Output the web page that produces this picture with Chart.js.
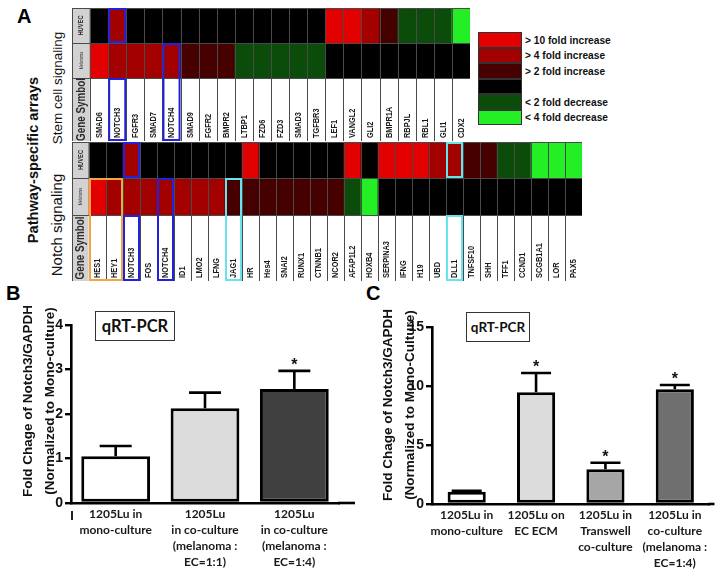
<!DOCTYPE html>
<html>
<head>
<meta charset="utf-8">
<script src="https://cdn.jsdelivr.net/npm/chart.js@4.4.1/dist/chart.umd.min.js"></script>
<style>
body { margin: 0; background: #fff; width: 721px; height: 574px; position: relative; overflow: hidden; font-family: "Liberation Sans", Arial, sans-serif; }
.abs { position: absolute; }
.rot { position: absolute; white-space: nowrap; transform: translate(-50%, -50%) rotate(-90deg); color: #111; }
.letter { position: absolute; font-weight: bold; font-size: 20px; line-height: 20px; color: #000; }
.qbox { position: absolute; border: 1.5px solid #333; box-sizing: border-box; font-family: Lato, sans-serif; font-weight: bold; color: #111; display: flex; align-items: center; justify-content: center; background: #fff; }
.ytitle { position: absolute; white-space: nowrap; transform: translate(-50%, -50%) rotate(-90deg); font-weight: bold; font-size: 13.5px; line-height: 22px; text-align: center; color: #111; }
#legend .sw { position: absolute; left: 478px; width: 44px; height: 15.5px; box-sizing: border-box; border: 1px solid #333; }
#legend .tx { position: absolute; left: 525px; font-weight: bold; font-size: 10.2px; line-height: 12px; color: #111; white-space: nowrap; }
</style>
</head>
<body>

<div class="letter" style="left:17px;top:6px;">A</div>
<div class="letter" style="left:6px;top:283px;">B</div>
<div class="letter" style="left:366px;top:283px;">C</div>

<div class="rot" style="left:33px;top:160px;font-weight:bold;font-size:14.6px;">Pathway-specific arrays</div>
<div class="rot" style="left:57px;top:88px;font-size:13.5px;">Stem cell signaling</div>
<div class="rot" style="left:56px;top:225px;font-size:15px;">Notch signaling</div>

<div class="abs" style="left:72px;top:8px;width:398px;height:133px;"><canvas id="stemMap"></canvas></div>
<div class="abs" style="left:72px;top:142px;width:510px;height:139px;"><canvas id="notchMap"></canvas></div>
<div id="legend"></div>

<div class="abs" style="left:0px;top:290px;width:360px;height:284px;"><canvas id="chartB"></canvas></div>
<div class="abs" style="left:360px;top:290px;width:361px;height:284px;"><canvas id="chartC"></canvas></div>

<div class="ytitle" style="left:39px;top:401px;">Fold Chage of Notch3/GAPDH<br>(Normalized to Mono-culture)</div>
<div class="ytitle" style="left:399px;top:405px;">Fold Chage of Notch3/GAPDH<br>(Normalized to Mono-Culture)</div>

<div class="qbox" style="left:95px;top:311px;width:80px;height:30px;font-size:16.5px;">qRT-PCR</div>
<div class="qbox" style="left:466px;top:312px;width:64px;height:30px;font-size:13.5px;">qRT-PCR</div>
<div class="abs" style="left:71px;top:511px;width:2px;height:9px;background:#222;"></div>

<script>
// ---- Panel A data: fold-change level per gene (3: >10x up, 2: >4x up, 1: >2x up, 0: none, -1: <2x down, -2: <4x down)
const stemGenes = ['SMAD6', 'NOTCH3', 'FGFR3', 'SMAD7', 'NOTCH4', 'SMAD9', 'FGFR2', 'BMPR2', 'LTBP1', 'FZD6', 'FZD3',
    'SMAD3', 'TGFBR3', 'LEF1', 'VANGL2', 'GLI2', 'BMPR1A', 'RBPJL', 'RBL1', 'GLI1', 'CDX2'];
const stemHuvec = [0, 2, 0, 0, 0, 0, 0, 0, 0, 0, 0, 0, 0, 3, 3, 2, 1, -1, -1, -1, -2];
const stemMelanoma = [3, 2, 2, 2, 2, 1, 1, 1, -1, -1, -1, -1, -1, 0, 0, 0, 0, 0, 0, 0, 0];

const notchGenes = ['HES1', 'HEY1', 'NOTCH3', 'FOS', 'NOTCH4', 'ID1', 'LMO2', 'LFNG', 'JAG1', 'HR', 'Hes4', 'SNAI2',
    'RUNX1', 'CTNNB1', 'NCOR2', 'AFAP1L2', 'HOXB4', 'SERPINA3', 'IFNG', 'H19', 'UBD', 'DLL1', 'TNFSF10', 'SHH',
    'TFF1', 'CCND1', 'SCGB1A1', 'LOR', 'PAX5'];
const notchHuvec = [0, 0, 2, 0, 0, 0, 0, 0, 0, 3, 0, 0, 0, 0, 0, 3, 0, 3, 3, 3, 2, 2, 1, 1, -1, -1, -2, -2, -2];
const notchMelanoma = [3, 2, 2, 2, 2, 2, 2, 2, 1, 1, 1, 1, 1, 1, 1, -1, -2, 0, 0, 0, 0, 0, 0, 0, 0, 0, 0, 0, 0];

const legendLevels = [3, 2, 1, 0, -1, -2];
const legendLabels = ['> 10 fold increase', '> 4 fold increase', '> 2 fold increase', '', '< 2 fold decrease', '< 4 fold decrease'];

// ---- Panel B data
const labelsB = [['1205Lu in', 'mono-culture'], ['1205Lu', 'in co-culture', '(melanoma :', 'EC=1:1)'],
    ['1205Lu', 'in co-culture', '(melanoma :', 'EC=1:4)']];
const valuesB = [1.05, 2.13, 2.56];
const errorsB = [1.28, 2.48, 2.97];
const signifB = [false, false, true];
const ticksB = [0, 1, 2, 3, 4];

// ---- Panel C data
const labelsC = [['1205Lu in', 'mono-culture'], ['1205Lu on', 'EC ECM'], ['1205Lu in', 'Transwell', 'co-culture'],
    ['1205Lu in', 'co-culture', '(melanoma :', 'EC=1:4)']];
const valuesC = [1.04, 9.46, 2.94, 9.72];
const errorsC = [1.12, 11.1, 3.5, 10.08];
const signifC = [false, true, true, true];
const ticksC = [0, 5, 10, 15];

const levelColors = { '3': '#e30000', '2': '#a30000', '1': '#460000', '0': '#000000', '-1': '#0b4c0b', '-2': '#24ee24' };
const labelGray = '#d2d2d2';

// legend
const legend = document.getElementById('legend');
legendLevels.forEach(function(lv, i) {
    const top = 32 + i * 15.5;
    const sw = document.createElement('div');
    sw.className = 'sw';
    sw.style.top = top + 'px';
    sw.style.background = levelColors[lv];
    legend.appendChild(sw);
    if (legendLabels[i]) {
        const tx = document.createElement('div');
        tx.className = 'tx';
        tx.style.top = (top + 2.5) + 'px';
        tx.textContent = legendLabels[i];
        legend.appendChild(tx);
    }
});

// Draws cell borders, gene names, row labels and highlight boxes
const heatTextPlugin = {
    id: 'heatText',
    afterDatasetsDraw: function(chart, args, opts) {
        const ctx = chart.ctx;
        const xs = chart.scales.x;
        const ys = chart.scales.y;
        ctx.save();
        ctx.strokeStyle = '#4a4a4a';
        ctx.lineWidth = 1;
        chart.data.datasets.forEach(function(ds, di) {
            chart.getDatasetMeta(di).data.forEach(function(el) {
                const p = el.getProps(['x', 'y', 'base', 'width'], true);
                const x0 = Math.round(p.x - p.width / 2);
                const x1 = Math.round(p.x + p.width / 2);
                const y0 = Math.round(Math.min(p.y, p.base));
                const y1 = Math.round(Math.max(p.y, p.base));
                ctx.strokeRect(x0 + 0.5, y0 + 0.5, x1 - x0, y1 - y0);
            });
        });

        // gene names
        ctx.fillStyle = '#1a1a1a';
        ctx.font = 'bold 9px "Liberation Sans", Arial, sans-serif';
        ctx.textAlign = 'left';
        ctx.textBaseline = 'middle';
        const yBottom = ys.getPixelForValue(opts.rows.gene[0]);
        opts.genes.forEach(function(g, i) {
            ctx.save();
            ctx.translate(xs.getPixelForValue(i + 1) + 0.5, yBottom - 3);
            ctx.rotate(-Math.PI / 2);
            ctx.scale(0.82, 1);
            ctx.fillText(g, 0, 0);
            ctx.restore();
        });

        // row labels in first column
        const rowText = [
            { row: 'huvec', text: 'HUVEC', font: 'bold 7px "Liberation Sans", Arial, sans-serif' },
            { row: 'melanoma', text: 'Melanoma', font: '4.6px "Liberation Sans", Arial, sans-serif' },
            { row: 'gene', text: 'Gene Symbol', font: 'bold 12px "Liberation Sans", Arial, sans-serif' }
        ];
        ctx.textAlign = 'center';
        rowText.forEach(function(r) {
            const span = opts.rows[r.row];
            const yMid = (ys.getPixelForValue(span[0]) + ys.getPixelForValue(span[1])) / 2;
            ctx.save();
            ctx.translate(xs.getPixelForValue(0) + 0.5, yMid);
            ctx.rotate(-Math.PI / 2);
            ctx.scale(0.82, 1);
            ctx.font = r.font;
            ctx.fillStyle = '#2a2a2a';
            ctx.fillText(r.text, 0, 0);
            ctx.restore();
        });

        // highlight boxes
        const cw = xs.width / chart.data.labels.length;
        ctx.lineWidth = 2;
        opts.highlights.forEach(function(h) {
            const i0 = opts.genes.indexOf(h.genes[0]) + 1;
            const i1 = opts.genes.indexOf(h.genes[h.genes.length - 1]) + 1;
            const spans = h.rows.map(function(r) { return opts.rows[r]; });
            const lo = Math.min.apply(null, spans.map(function(s) { return s[0]; }));
            const hi = Math.max.apply(null, spans.map(function(s) { return s[1]; }));
            const x0 = xs.getPixelForValue(i0) - cw / 2;
            const x1 = xs.getPixelForValue(i1) + cw / 2;
            const y0 = ys.getPixelForValue(hi);
            const y1 = ys.getPixelForValue(lo);
            ctx.strokeStyle = h.color;
            ctx.strokeRect(x0 + 1, y0 + 1, x1 - x0 - 2, y1 - y0 - 2);
        });
        ctx.restore();
    }
};

function levelFill(levels) {
    return [labelGray].concat(levels.map(function(l) { return levelColors[l]; }));
}

function createHeatmap(id, genes, huvec, melanoma, rows, highlights) {
    const labels = [''].concat(genes);
    const rowSet = function(span, colors) {
        return {
            data: labels.map(function() { return span; }),
            backgroundColor: colors,
            borderWidth: 0,
            grouped: false,
            barPercentage: 1,
            categoryPercentage: 1
        };
    };
    new Chart(document.getElementById(id), {
        type: 'bar',
        data: {
            labels: labels,
            datasets: [
                rowSet(rows.huvec, levelFill(huvec)),
                rowSet(rows.melanoma, levelFill(melanoma)),
                rowSet(rows.gene, [labelGray].concat(genes.map(function() { return '#ffffff'; })))
            ]
        },
        options: {
            responsive: true,
            maintainAspectRatio: false,
            animation: false,
            events: [],
            layout: { padding: 0 },
            scales: {
                x: { display: false },
                y: { display: false, min: 0, max: rows.huvec[1] }
            },
            plugins: {
                legend: { display: false },
                tooltip: { enabled: false },
                heatText: { genes: genes, rows: rows, highlights: highlights }
            }
        },
        plugins: [heatTextPlugin]
    });
}

const blue = '#2222dd';
const cyan = '#66e4ee';
const orange = '#f2a640';

createHeatmap('stemMap', stemGenes, stemHuvec, stemMelanoma,
    { gene: [0, 63], melanoma: [63, 98], huvec: [98, 133] },
    [
        { genes: ['NOTCH3'], rows: ['huvec'], color: blue },
        { genes: ['NOTCH3'], rows: ['gene'], color: blue },
        { genes: ['NOTCH4'], rows: ['melanoma', 'gene'], color: blue }
    ]);

createHeatmap('notchMap', notchGenes, notchHuvec, notchMelanoma,
    { gene: [0, 66], melanoma: [66, 103], huvec: [103, 139] },
    [
        { genes: ['HES1', 'HEY1'], rows: ['melanoma', 'gene'], color: orange },
        { genes: ['NOTCH3'], rows: ['huvec'], color: blue },
        { genes: ['NOTCH3'], rows: ['gene'], color: blue },
        { genes: ['NOTCH4'], rows: ['melanoma', 'gene'], color: blue },
        { genes: ['JAG1'], rows: ['melanoma', 'gene'], color: cyan },
        { genes: ['DLL1'], rows: ['huvec'], color: cyan },
        { genes: ['DLL1'], rows: ['gene'], color: cyan }
    ]);

// Error bars (upper only), asterisks and x-axis extension
const errorBarPlugin = {
    id: 'errorBars',
    afterDatasetsDraw: function(chart, args, opts) {
        const ctx = chart.ctx;
        const ys = chart.scales.y;
        const meta = chart.getDatasetMeta(0);
        ctx.save();
        ctx.strokeStyle = '#000';
        ctx.fillStyle = '#111';
        ctx.lineWidth = 2.6;
        ctx.font = 'bold 16px "Liberation Sans", Arial, sans-serif';
        ctx.textAlign = 'center';
        ctx.textBaseline = 'alphabetic';
        meta.data.forEach(function(el, i) {
            const yBar = ys.getPixelForValue(opts.values[i]);
            const yErr = ys.getPixelForValue(opts.errors[i]);
            ctx.beginPath();
            ctx.moveTo(el.x, yBar);
            ctx.lineTo(el.x, yErr);
            ctx.moveTo(el.x - opts.cap / 2, yErr);
            ctx.lineTo(el.x + opts.cap / 2, yErr);
            ctx.stroke();
            if (opts.signif[i]) {
                ctx.fillText('*', el.x, yErr - 1);
            }
        });
        const area = chart.chartArea;
        ctx.lineWidth = 2.6;
        ctx.beginPath();
        ctx.moveTo(area.right - 1, area.bottom);
        ctx.lineTo(area.right + opts.axisExtend, area.bottom);
        ctx.stroke();
        ctx.restore();
    }
};

function createBarChart(id, labels, values, errors, signif, ticks, colors, cfg) {
    new Chart(document.getElementById(id), {
        type: 'bar',
        data: {
            labels: labels,
            datasets: [{
                data: values,
                backgroundColor: colors,
                borderColor: '#000',
                borderWidth: 3,
                borderSkipped: false,
                barPercentage: cfg.barPct,
                categoryPercentage: 1
            }]
        },
        options: {
            responsive: true,
            maintainAspectRatio: false,
            animation: false,
            events: [],
            layout: { padding: cfg.padding },
            scales: {
                x: {
                    afterFit: function(s) { s.height = cfg.xHeight; },
                    grid: { display: false, drawTicks: false },
                    border: { display: true, color: '#000', width: 2.6 },
                    ticks: {
                        padding: 3,
                        maxRotation: 0,
                        autoSkip: false,
                        color: '#1a1a1a',
                        font: { family: 'Lato, sans-serif', size: 12, weight: 'bold', lineHeight: 1.33 }
                    }
                },
                y: {
                    min: 0,
                    max: ticks[ticks.length - 1],
                    afterFit: function(s) { s.width = cfg.yWidth; },
                    afterBuildTicks: function(s) { s.ticks = ticks.map(function(v) { return { value: v }; }); },
                    grid: { drawOnChartArea: false, drawTicks: true, tickLength: 6, color: '#000', lineWidth: 2.4 },
                    border: { display: true, color: '#000', width: 2.6 },
                    ticks: {
                        padding: 2,
                        color: '#111',
                        font: { family: '"Liberation Sans", Arial, sans-serif', size: 14, weight: 'bold' }
                    }
                }
            },
            plugins: {
                legend: { display: false },
                tooltip: { enabled: false },
                errorBars: { values: values, errors: errors, signif: signif, cap: cfg.cap, axisExtend: cfg.axisExtend }
            }
        },
        plugins: [errorBarPlugin]
    });
}

createBarChart('chartB', labelsB, valuesB, errorsB, signifB, ticksB, ['#ffffff', '#dcdcdc', '#404040'], {
    barPct: 0.77, cap: 32, yWidth: 71, xHeight: 71, axisExtend: 16,
    padding: { left: 0, right: 21, top: 35, bottom: 0 }
});

createBarChart('chartC', labelsC, valuesC, errorsC, signifC, ticksC, ['#ffffff', '#dcdcdc', '#a6a6a6', '#6f6f6f'], {
    barPct: 0.55, cap: 30, yWidth: 72, xHeight: 70, axisExtend: 5,
    padding: { left: 0, right: 11.5, top: 37, bottom: 0 }
});
</script>
</body>
</html>
